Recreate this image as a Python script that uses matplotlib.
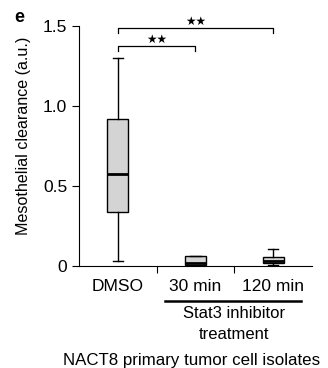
import matplotlib
matplotlib.use("Agg")
import matplotlib.pyplot as plt

# box statistics
groups = ["DMSO", "30 min", "120 min"]
whisker_low = [0.03, 0.0, 0.008]
q1 = [0.336, 0.005, 0.017]
median = [0.578, 0.022, 0.033]
q3 = [0.917, 0.063, 0.054]
whisker_high = [1.30, 0.063, 0.106]

# significance brackets: (from group, to group, height, label)
brackets = [(0, 2, 1.487, "\u2605\u2605"), (0, 1, 1.375, "\u2605\u2605")]

plt.rcParams["font.family"] = ["Liberation Sans", "DejaVu Sans"]

fig = plt.figure(figsize=(3.28, 3.68), dpi=100)
ax = fig.add_axes([0.241, 0.277, 0.71, 0.652])

stats = []
for i, g in enumerate(groups):
    stats.append(dict(label=g, whislo=whisker_low[i], q1=q1[i], med=median[i],
                      q3=q3[i], whishi=whisker_high[i], fliers=[]))

ax.bxp(stats, positions=range(len(groups)), widths=0.27, patch_artist=True,
       showfliers=False,
       boxprops=dict(facecolor="#d4d4d4", edgecolor="black", linewidth=1.0),
       medianprops=dict(color="black", linewidth=2.0),
       whiskerprops=dict(color="black", linewidth=1.0),
       capprops=dict(color="black", linewidth=1.0),
       capwidths=0.13)

ax.set_xlim(-0.5, 2.5)
ax.set_ylim(0, 1.5)
ax.set_yticks([0, 0.5, 1.0, 1.5])
ax.set_yticklabels(["0", "0.5", "1.0", "1.5"], fontsize=12.5)
ax.set_xticks([0.5, 1.5])
ax.set_xticklabels([])
ax.tick_params(axis="both", direction="out", length=5, width=0.8)
for side in ["top", "right"]:
    ax.spines[side].set_visible(False)
ax.spines["left"].set_linewidth(0.8)
ax.spines["bottom"].set_linewidth(0.8)

# group labels below the axis
for i, g in enumerate(groups):
    ax.text(i, -0.13, g, ha="center", va="center", fontsize=12.5, clip_on=False)

# brackets with stars
for a, b, h, lab in brackets:
    ax.plot([a, a, b, b], [h - 0.03, h, h, h - 0.03], color="black", lw=0.9, clip_on=False)
    ax.text((a + b) / 2, h + 0.04, lab, ha="center", va="center", fontsize=8.5,
            family="DejaVu Sans")

ax.set_ylabel("Mesothelial clearance (a.u.)", fontsize=11.6, va="center")
ax.yaxis.set_label_coords(-0.238, 0.544)

# treatment line under the two inhibitor groups
ax.plot([0.61, 2.36], [-0.22, -0.22], color="black", lw=1.8, clip_on=False)
ax.text(1.5, -0.295, "Stat3 inhibitor", ha="center", va="center", fontsize=12)
ax.text(1.5, -0.425, "treatment", ha="center", va="center", fontsize=12)
ax.text(0.95, -0.59, "NACT8 primary tumor cell isolates", ha="center", va="center", fontsize=12.2)

fig.text(0.058, 0.953, "e", fontsize=13, fontweight="bold", ha="center", va="center")

fig.savefig("out.png", dpi=100)
